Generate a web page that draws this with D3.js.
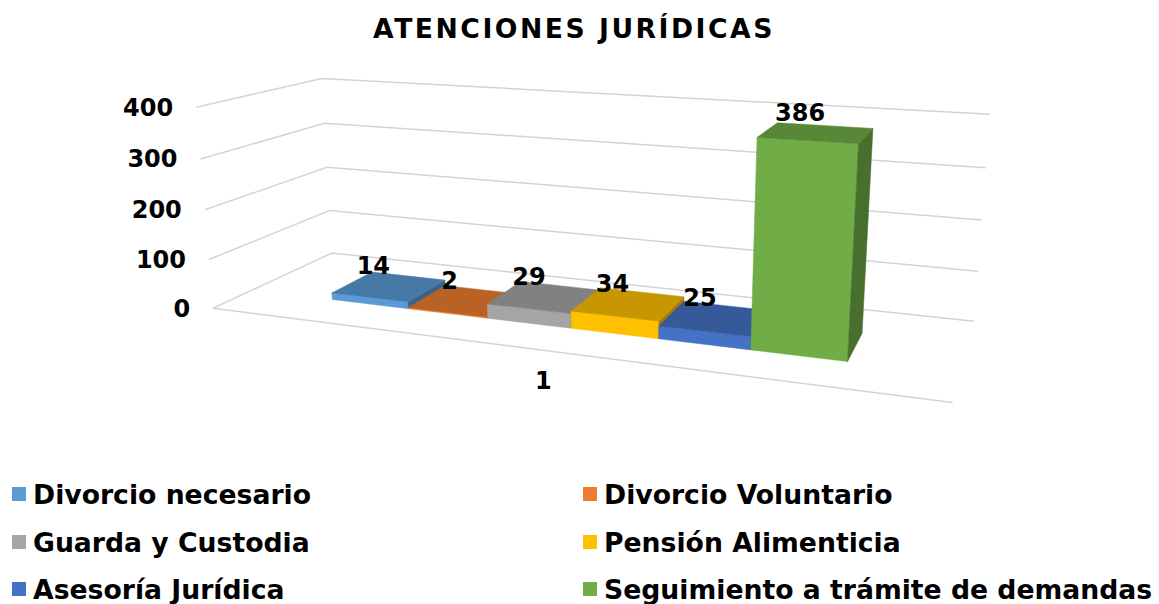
<!DOCTYPE html>
<html>
<head>
<meta charset="utf-8">
<script src="https://cdn.jsdelivr.net/npm/d3@7"></script>
<style>
  html, body { margin: 0; padding: 0; background: #fff; }
  svg { display: block; }
  text { font-family: "DejaVu Sans", Verdana, sans-serif; font-weight: bold; fill: #000; }
</style>
</head>
<body>
<svg id="chart" width="1159" height="604"></svg>
<script>
// ---------------- DATA ----------------
const title = "ATENCIONES JURÍDICAS";
const categories = ["1"];
const seriesNames = [
  "Divorcio necesario",
  "Divorcio Voluntario",
  "Guarda y Custodia",
  "Pensión Alimenticia",
  "Asesoría Jurídica",
  "Seguimiento a trámite de demandas"
];
const seriesValues = [14, 2, 29, 34, 25, 386];
const seriesColors = ["#5B9BD5", "#ED7D31", "#A5A5A5", "#FFC000", "#4472C4", "#70AD47"];
const valueTicks = [0, 100, 200, 300, 400];

// ---------------- LAYOUT ----------------
// Screen anchors of the 3D plot box corners (x: 0..1, value: 0..1, depth z: 0 front .. 1 back)
const frameAnchors = [
  [[0, 0, 0], [213, 308]],
  [[1, 0, 0], [953, 402]],
  [[0, 0, 1], [332, 253]],
  [[1, 0, 1], [974, 322]],
  [[0, 1, 0], [196, 108]],
  [[0, 1, 1], [322, 78]],
  [[1, 1, 1], [990, 114]]
];
const barDepth = [0.30, 0.665];

// Fit a perspective projection (3x4, p11 = 1) by least squares
function fitCamera(pairs) {
  const A = [], b = [];
  pairs.forEach(([[X, Y, Z], [u0, v0]]) => {
    const u = u0 / 1000, v = v0 / 1000;
    A.push([X, Y, Z, 1, 0, 0, 0, 0, -u * X, -u * Y, -u * Z]); b.push(u);
    A.push([0, 0, 0, 0, X, Y, Z, 1, -v * X, -v * Y, -v * Z]); b.push(v);
  });
  const n = 11;
  const M = Array.from({length: n}, () => new Array(n + 1).fill(0));
  for (let r = 0; r < A.length; r++) {
    for (let i = 0; i < n; i++) {
      for (let j = 0; j < n; j++) M[i][j] += A[r][i] * A[r][j];
      M[i][n] += A[r][i] * b[r];
    }
  }
  for (let c = 0; c < n; c++) {
    let piv = c;
    for (let r = c + 1; r < n; r++) if (Math.abs(M[r][c]) > Math.abs(M[piv][c])) piv = r;
    [M[c], M[piv]] = [M[piv], M[c]];
    for (let r = 0; r < n; r++) {
      if (r === c) continue;
      const f = M[r][c] / M[c][c];
      for (let k = c; k <= n; k++) M[r][k] -= f * M[c][k];
    }
  }
  return M.map((row, i) => row[n] / row[i]);
}
const P = fitCamera(frameAnchors);
function proj(X, Y, Z) {
  const w = P[8] * X + P[9] * Y + P[10] * Z + 1;
  return [1000 * (P[0] * X + P[1] * Y + P[2] * Z + P[3]) / w,
          1000 * (P[4] * X + P[5] * Y + P[6] * Z + P[7]) / w];
}

// scales
const yScale = d3.scaleLinear().domain([0, 400]).range([0, 1]);
const xScale = d3.scaleBand().domain(seriesNames).range([0, 1]).paddingInner(0).paddingOuter(1.1);

const svg = d3.select("#chart");

// title
svg.append("text").attr("x", 574).attr("y", 38).attr("text-anchor", "middle")
  .attr("font-size", 26.67).attr("letter-spacing", 2.5).text(title);

// gridlines (left wall + back wall)
const line = d3.line();
const gGrid = svg.append("g");
valueTicks.forEach(t => {
  const y = yScale(t);
  gGrid.append("path")
    .attr("d", line([proj(0, y, 0), proj(0, y, 1), proj(1, y, 1)]))
    .attr("fill", "none").attr("stroke", "#d4d4d4").attr("stroke-width", 1.5);
});
// floor front edge
gGrid.append("path").attr("d", line([proj(0, 0, 0), proj(1, 0, 0)]))
  .attr("fill", "none").attr("stroke", "#d4d4d4").attr("stroke-width", 1.5);

// value axis labels
valueTicks.forEach(t => {
  const p = proj(0, yScale(t), 0);
  svg.append("text").attr("x", p[0] - 23).attr("y", p[1]).attr("dy", "0.35em")
    .attr("text-anchor", "end").attr("font-size", 24).text(t);
});

// category label
const cp = proj(0.5, 0, 0);
svg.append("text").attr("x", cp[0] - 1).attr("y", cp[1] + 39).attr("text-anchor", "middle")
  .attr("font-size", 24).text(categories[0]);

// bars
function shade(c, k) {
  const r = d3.rgb(c);
  return d3.rgb(r.r * k, r.g * k, r.b * k).formatHex();
}
function area(pts) {
  let s = 0;
  for (let i = 0; i < pts.length; i++) {
    const a = pts[i], b = pts[(i + 1) % pts.length];
    s += a[0] * b[1] - b[0] * a[1];
  }
  return s / 2;
}
const gBars = svg.append("g");
seriesNames.forEach((name, i) => {
  const x0 = xScale(name), x1 = x0 + xScale.bandwidth();
  const y0 = 0, y1 = yScale(seriesValues[i]);
  const [z0, z1] = barDepth;
  const col = seriesColors[i];
  const faces = [
    {pts: [[x0, y0, z0], [x1, y0, z0], [x1, y1, z0], [x0, y1, z0]], fill: col},
    {pts: [[x1, y0, z0], [x1, y0, z1], [x1, y1, z1], [x1, y1, z0]], fill: shade(col, 0.64)},
    {pts: [[x0, y0, z1], [x0, y0, z0], [x0, y1, z0], [x0, y1, z1]], fill: shade(col, 0.64)},
    {pts: [[x0, y1, z0], [x1, y1, z0], [x1, y1, z1], [x0, y1, z1]], fill: shade(col, 0.78)}
  ];
  const frontSign = Math.sign(area(faces[0].pts.map(p => proj(...p))));
  const g = gBars.append("g");
  faces.forEach(f => {
    const sp = f.pts.map(p => proj(...p));
    if (Math.sign(area(sp)) === frontSign && Math.abs(area(sp)) > 0.01) {
      g.append("path").attr("d", line(sp) + "Z").attr("fill", f.fill)
        .attr("stroke", f.fill).attr("stroke-width", 0.5).attr("stroke-linejoin", "round");
    }
  });
});

// data labels
seriesNames.forEach((name, i) => {
  const xc = xScale(name) + xScale.bandwidth() / 2;
  const p = proj(xc, yScale(seriesValues[i]), (barDepth[0] + barDepth[1]) / 2);
  svg.append("text").attr("x", p[0] - 16).attr("y", p[1] - 12).attr("text-anchor", "middle")
    .attr("font-size", 24).text(seriesValues[i]);
});

// legend
const legendCols = [12, 583];
const legendRows = [487, 535, 582];
seriesNames.forEach((name, i) => {
  const cx = legendCols[i % 2], ry = legendRows[Math.floor(i / 2)];
  svg.append("rect").attr("x", cx).attr("y", ry).attr("width", 14).attr("height", 14)
    .attr("fill", seriesColors[i]);
  svg.append("text").attr("x", cx + 21).attr("y", ry + 17).attr("font-size", 26.67).text(name);
});
</script>
</body>
</html>
